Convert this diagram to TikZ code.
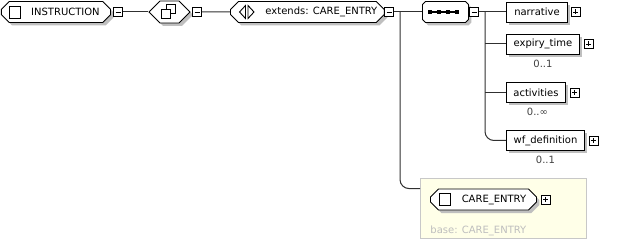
\documentclass[tikz,border=0pt]{standalone}
\usepackage{fontspec}
\setmainfont{DejaVu Sans}
\usepackage{xcolor}
\usetikzlibrary{positioning,shapes.misc,shapes.symbols,shadows}

\definecolor{baseFill}{RGB}{255,255,232}
\definecolor{baseLine}{RGB}{200,200,200}
\definecolor{baseText}{RGB}{190,190,190}
\definecolor{wire}{RGB}{48,48,48}

\begin{document}
\begin{tikzpicture}[x=1pt,y=-1pt,line width=0.9pt,
  font=\fontsize{10}{12}\selectfont,
  conn/.style={draw=wire,line width=1pt},
  shadowed/.style={drop shadow={shadow xshift=3pt,shadow yshift=-3pt,fill=black!25,opacity=1}},
  elem/.style={chamfered rectangle,chamfered rectangle xsep=4pt,chamfered rectangle ysep=4pt,
    draw,fill=white,minimum height=21pt,inner xsep=3pt,inner ysep=0pt,shadowed},
  group/.style={signal,signal to=west and east,signal pointer angle=90,
    draw,fill=white,minimum height=22pt,inner sep=0pt,shadowed},
  child/.style={rectangle,draw,fill=white,minimum height=20pt,inner sep=0pt,shadowed},
  tog/.style={rectangle,draw,fill=white,minimum size=9pt,inner sep=0pt,line width=0.8pt},
  minus/.style={tog,path picture={\draw[line width=0.8pt]
    ([xshift=2pt]path picture bounding box.west)--([xshift=-2pt]path picture bounding box.east);}},
  plus/.style={tog,path picture={\draw[line width=0.8pt]
    ([xshift=2pt]path picture bounding box.west)--([xshift=-2pt]path picture bounding box.east)
    ([yshift=-2pt]path picture bounding box.north)--([yshift=2pt]path picture bounding box.south);}},
  mult/.style={text=black!75,inner sep=1pt}]
\useasboundingbox (0,0) rectangle (626,240);

%root element
\node[elem,minimum width=109pt,anchor=west] (instr) at (1,12) {\hspace{19pt}INSTRUCTION};
\draw ([xshift=8pt]instr.west) ++(0,-6) rectangle ++(11,12);
\node[minus] (instrTog) at (118,12) {};

%choice
\node[group,minimum width=41pt] (choice) at (169.5,12) {};
\draw (166,4) rectangle (175,13);
\draw[fill=white] (161,9) rectangle (170,18);
\node[minus] (choiceTog) at (197,12) {};
\draw[conn] (instrTog)--(choice);

%extension
\node[elem,minimum width=147pt,anchor=west] (ext) at (230,12) {\hspace{28pt}extends: CARE\_ENTRY};
\draw (245.5,5.5)--(239.5,12)--(245.5,18.5)--cycle;
\draw (248,5.5)--(254,12)--(248,18.5)--cycle;
\node[minus] (extTog) at (389,12) {};
\draw[conn] (choiceTog)--(ext);
\coordinate (extFork) at (400,12);

%sequence
\node[elem,minimum width=46pt,anchor=west] (seq) at (422,12) {};
\draw[line width=1.3pt] (428,12)--(459,12);
\foreach \x in {430,439,448,457}
  \fill (\x-2,10) rectangle ++(4,4);
\node[minus] (seqTog) at (474,12) {};
\draw[conn] (extTog)--(seq);
\coordinate (seqFork) at (485,12);

%children of the sequence
\node[child,minimum width=61pt,anchor=west] (narrative) at (506,12) {narrative};
\node[plus,right=3pt of narrative] (narrativeTog) {};
\node[child,minimum width=73pt,anchor=west] (expiry) at (506,44) {expiry\_time};
\node[plus,right=4pt of expiry] (expiryTog) {};
\node[mult,below=4pt of expiry] {0..1};
\node[child,minimum width=59pt,anchor=west] (activities) at (506,92.5) {activities};
\node[plus,right=4pt of activities] (activitiesTog) {};
\node[mult,below=4pt of activities,xshift=1.5pt] {0..∞};
\node[child,minimum width=78pt,anchor=west] (wfdef) at (506,140.5) {wf\_definition};
\node[plus,right=4pt of wfdef] (wfdefTog) {};
\node[mult,below=4pt of wfdef] {0..1};

\draw[conn] (seqTog)--(narrative);
\draw[conn] (seqFork|-expiry)--(expiry);
\draw[conn] (seqFork|-activities)--(activities);
\draw[conn,rounded corners=9pt] (seqFork)|-(wfdef);

%base type
\node[rectangle,draw=baseLine,fill=baseFill,line width=0.8pt,anchor=north west,
  minimum width=166pt,minimum height=60pt] (base) at (420,178) {};
\node[elem,minimum width=106pt,anchor=west] (careEntry) at (430,199.5) {\hspace{21pt}CARE\_ENTRY};
\draw ([xshift=9pt]careEntry.west) ++(0,-6) rectangle ++(11,12);
\node[plus,right=4pt of careEntry] (careTog) {};
\node[anchor=west,text=baseText,inner sep=0pt] (baseLbl) at (430,231) {base: CARE\_ENTRY};
\draw[conn,rounded corners=9pt] (extFork)|-(base.west|-careEntry.north);
\end{tikzpicture}
\end{document}
